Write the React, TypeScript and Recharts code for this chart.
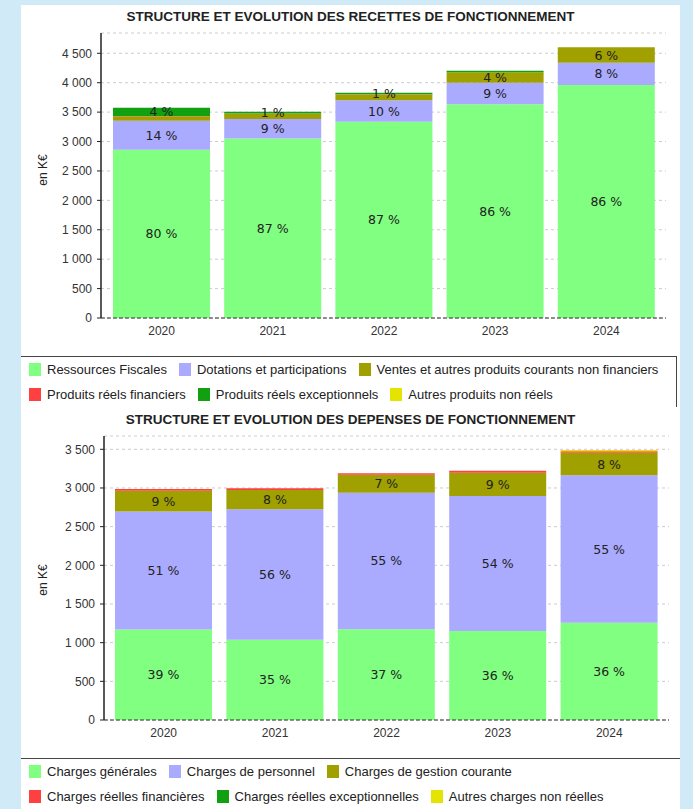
import { BarChart, Bar, XAxis, YAxis, CartesianGrid, LabelList } from 'recharts';

const years = ['2020', '2021', '2022', '2023', '2024'];

// recettes de fonctionnement (K€)
const ressourcesFiscales = [2860, 3052, 3335, 3634, 3961];
const dotations = [495, 330, 366, 366, 379];
const ventes = [75, 92, 100, 177, 261];
const produitsFinanciers = [2, 1, 1, 1, 0];
const produitsExceptionnels = [144, 33, 28, 26, 0];
const autresProduits = [0, 0, 0, 0, 0];

const rfLabels = ['80 %', '87 %', '87 %', '86 %', '86 %'];
const dotLabels = ['14 %', '9 %', '10 %', '9 %', '8 %'];
const ventesLabels = ['', '', '', '4 %', '6 %'];
const excLabels = ['4 %', '1 %', '1 %', '', ''];

// dépenses de fonctionnement (K€)
const chargesGenerales = [1170, 1036, 1174, 1152, 1256];
const chargesPersonnel = [1525, 1689, 1765, 1745, 1908];
const chargesGestion = [270, 250, 232, 300, 290];
const chargesFinancieres = [22, 21, 19, 27, 20];
const chargesExceptionnelles = [0, 0, 0, 0, 0];
const autresCharges = [0, 0, 0, 0, 17];

const genLabels = ['39 %', '35 %', '37 %', '36 %', '36 %'];
const persLabels = ['51 %', '56 %', '55 %', '54 %', '55 %'];
const gestLabels = ['9 %', '8 %', '7 %', '9 %', '8 %'];

const recettesTicks = [0, 500, 1000, 1500, 2000, 2500, 3000, 3500, 4000, 4500];
const depensesTicks = [0, 500, 1000, 1500, 2000, 2500, 3000, 3500];

const C = {
  green: '#80ff80',
  lavender: '#aaaaff',
  olive: '#a0a000',
  red: '#ff4040',
  darkGreen: '#10a010',
  yellow: '#e4e400',
};

const recettesData = years.map((year, i) => ({
  year,
  rf: ressourcesFiscales[i],
  dot: dotations[i],
  ventes: ventes[i],
  fin: produitsFinanciers[i],
  exc: produitsExceptionnels[i],
  autres: autresProduits[i],
  rfLbl: rfLabels[i],
  dotLbl: dotLabels[i],
  ventesLbl: ventesLabels[i],
  excLbl: excLabels[i],
}));

const depensesData = years.map((year, i) => ({
  year,
  gen: chargesGenerales[i],
  pers: chargesPersonnel[i],
  gest: chargesGestion[i],
  fin: chargesFinancieres[i],
  exc: chargesExceptionnelles[i],
  autres: autresCharges[i],
  genLbl: genLabels[i],
  persLbl: persLabels[i],
  gestLbl: gestLabels[i],
}));

const FONT = '"Liberation Sans", Arial, sans-serif';

function fmt(v: number) {
  return String(v).replace(/\B(?=(\d{3})+(?!\d))/g, ' ');
}

function renderPct(props: any) {
  const vb = props.viewBox ?? props;
  const { value } = props;
  if (!value) return null;
  return (
    <text
      x={vb.x + vb.width / 2}
      y={vb.y + vb.height / 2}
      textAnchor="middle"
      dominantBaseline="central"
      fill="#222"
      fontSize={12.5}
      fontFamily='"DejaVu Sans", sans-serif'
    >
      {value}
    </text>
  );
}

function LegendBox({ rows, top, rightBorder }: { rows: [string, string][][]; top: number; rightBorder: boolean }) {
  return (
    <div
      style={{
        position: 'absolute', left: 21, top, width: rightBorder ? 655 : 659, height: 50,
        borderTop: '1.5px solid #444', borderRight: rightBorder ? '1.5px solid #444' : 'none',
        fontSize: 13, color: '#222',
      }}
    >
      {rows.map((row, r) => (
        <div key={r} style={{ display: 'flex', alignItems: 'center', height: 25, paddingLeft: 8 }}>
          {row.map(([label, color]) => (
            <div key={label} style={{ display: 'flex', alignItems: 'center', marginRight: 12 }}>
              <span style={{ display: 'inline-block', width: 12, height: 13, background: color, marginRight: 6 }} />
              <span>{label}</span>
            </div>
          ))}
        </div>
      ))}
    </div>
  );
}

function YTitle({ cy }: { cy: number }) {
  return (
    <div
      style={{
        position: 'absolute', left: 13, top: cy - 8, width: 60, height: 16, lineHeight: '16px',
        textAlign: 'center', fontSize: 12, color: '#222', transform: 'rotate(-90deg)',
      }}
    >
      en K€
    </div>
  );
}

function Title({ text, top }: { text: string; top: number }) {
  return (
    <div
      style={{
        position: 'absolute', left: 21, top, width: 659, textAlign: 'center',
        fontSize: 13.5, fontWeight: 'bold', color: '#222',
      }}
    >
      {text}
    </div>
  );
}

const tickStyle = { fill: '#333', fontSize: 12, fontFamily: FONT };

export default function App() {
  return (
    <div style={{ position: 'absolute', left: 0, top: 0, width: 693, height: 809, background: '#d0eaf8', fontFamily: FONT, overflow: 'hidden' }}>
      <div style={{ position: 'absolute', left: 21, top: 5, width: 659, height: 804, background: '#fff' }} />

      <Title text="STRUCTURE ET EVOLUTION DES RECETTES DE FONCTIONNEMENT" top={9} />
      <YTitle cy={170} />
      <div style={{ position: 'absolute', left: 21, top: 5 }}>
        <BarChart width={659} height={350} data={recettesData} margin={{ top: 28, right: 14, bottom: 7, left: 0 }} barSize={97}>
          <CartesianGrid vertical={false} stroke="#cccccc" strokeDasharray="3 3" />
          <XAxis dataKey="year" height={30} tickLine={false} tick={tickStyle} padding={{ left: 5, right: 4 }}
            axisLine={{ stroke: '#333', strokeDasharray: '4 2' }} />
          <YAxis width={80} domain={[0, 4845]} ticks={recettesTicks} tickFormatter={fmt} tick={tickStyle}
            tickSize={4} tickMargin={5} interval={0} allowDataOverflow
            axisLine={{ stroke: '#222', strokeWidth: 1.5 }} tickLine={{ stroke: '#222' }} />
          <Bar dataKey="rf" stackId="a" fill={C.green} isAnimationActive={false}>
            <LabelList dataKey="rfLbl" content={renderPct} />
          </Bar>
          <Bar dataKey="dot" stackId="a" fill={C.lavender} isAnimationActive={false}>
            <LabelList dataKey="dotLbl" content={renderPct} />
          </Bar>
          <Bar dataKey="ventes" stackId="a" fill={C.olive} isAnimationActive={false}>
            <LabelList dataKey="ventesLbl" content={renderPct} />
          </Bar>
          <Bar dataKey="fin" stackId="a" fill={C.red} isAnimationActive={false} />
          <Bar dataKey="exc" stackId="a" fill={C.darkGreen} isAnimationActive={false}>
            <LabelList dataKey="excLbl" content={renderPct} />
          </Bar>
          <Bar dataKey="autres" stackId="a" fill={C.yellow} isAnimationActive={false} />
        </BarChart>
      </div>
      <LegendBox
        top={356}
        rightBorder
        rows={[
          [['Ressources Fiscales', C.green], ['Dotations et participations', C.lavender], ['Ventes et autres produits courants non financiers', C.olive]],
          [['Produits réels financiers', C.red], ['Produits réels exceptionnels', C.darkGreen], ['Autres produits non réels', C.yellow]],
        ]}
      />

      <Title text="STRUCTURE ET EVOLUTION DES DEPENSES DE FONCTIONNEMENT" top={412} />
      <YTitle cy={580} />
      <div style={{ position: 'absolute', left: 21, top: 408 }}>
        <BarChart width={659} height={349} data={depensesData} margin={{ top: 28, right: 11, bottom: 7, left: 0 }} barSize={97}>
          <CartesianGrid vertical={false} stroke="#cccccc" strokeDasharray="3 3" />
          <XAxis dataKey="year" height={30} tickLine={false} tick={tickStyle} padding={{ left: 4, right: 4 }}
            axisLine={{ stroke: '#333', strokeDasharray: '4 2' }} />
          <YAxis width={83} domain={[0, 3672]} ticks={depensesTicks} tickFormatter={fmt} tick={tickStyle}
            tickSize={4} tickMargin={5} interval={0} allowDataOverflow
            axisLine={{ stroke: '#222', strokeWidth: 1.5 }} tickLine={{ stroke: '#222' }} />
          <Bar dataKey="gen" stackId="b" fill={C.green} isAnimationActive={false}>
            <LabelList dataKey="genLbl" content={renderPct} />
          </Bar>
          <Bar dataKey="pers" stackId="b" fill={C.lavender} isAnimationActive={false}>
            <LabelList dataKey="persLbl" content={renderPct} />
          </Bar>
          <Bar dataKey="gest" stackId="b" fill={C.olive} isAnimationActive={false}>
            <LabelList dataKey="gestLbl" content={renderPct} />
          </Bar>
          <Bar dataKey="fin" stackId="b" fill={C.red} isAnimationActive={false} />
          <Bar dataKey="exc" stackId="b" fill={C.darkGreen} isAnimationActive={false} />
          <Bar dataKey="autres" stackId="b" fill={C.yellow} isAnimationActive={false} />
        </BarChart>
      </div>
      <LegendBox
        top={758}
        rightBorder={false}
        rows={[
          [['Charges générales', C.green], ['Charges de personnel', C.lavender], ['Charges de gestion courante', C.olive]],
          [['Charges réelles financières', C.red], ['Charges réelles exceptionnelles', C.darkGreen], ['Autres charges non réelles', C.yellow]],
        ]}
      />
    </div>
  );
}
